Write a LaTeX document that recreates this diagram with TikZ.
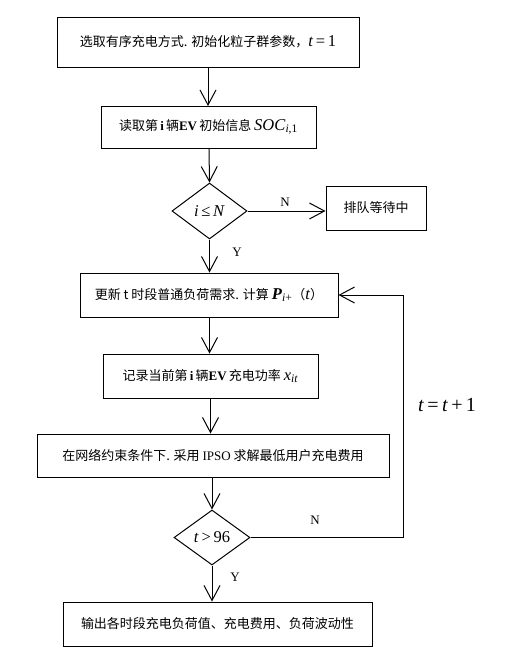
\documentclass[tikz,border=0pt]{standalone}
\usepackage{fontspec}
\setmainfont{Liberation Serif}
\newfontfamily\cjk{Noto Sans CJK SC}
\usetikzlibrary{shapes.geometric,arrows.meta}
\newcommand\lat[1]{{\rmfamily #1}}
\newcommand\fm[1]{{\rmfamily\fontsize{16.5}{18}\selectfont #1}}
\tikzset{
  box/.style={draw, line width=1pt, inner sep=0pt, font=\cjk\fontsize{13}{15}\selectfont},
  dia/.style={draw, diamond, line width=1pt, inner sep=0pt, aspect=1.35},
  arr/.style={line width=1pt, -{Straight Barb[length=15pt,width=16pt,line width=1pt]}},
  lbl/.style={font=\rmfamily\fontsize{13}{15}\selectfont, inner sep=0pt}
}
\begin{document}
\begin{tikzpicture}[x=1pt,y=-1pt]
\useasboundingbox (0,0) rectangle (506,657);
\node[box, minimum width=302pt, minimum height=50pt] (b1) at (208,42)
  {选取有序充电方式. 初始化粒子群参数，\fm{\textit{t}\,=\,1}};
\node[box, minimum width=215pt, minimum height=42pt] (b2) at (208.5,127)
  {读取第\,\lat{\textbf{i}}\,辆\lat{\textbf{EV}}\,初始信息 \fm{\textit{SOC}\textsubscript{\textit{i},1}}};
\node[dia, minimum width=75pt, minimum height=56pt] (d1) at (209.5,211)
  {\fm{\textit{i}\,≤\,\textit{N}}};
\node[box, minimum width=100pt, minimum height=44pt] (w) at (376,208) {排队等待中};
\node[box, minimum width=258pt, minimum height=44pt] (b3) at (209,295)
  {更新 t 时段普通负荷需求. 计算 \fm{\textbf{\textit{P}}\textsubscript{\textit{i}+}}（\fm{\textit{t}}）};
\node[box, minimum width=215pt, minimum height=44pt] (b4) at (210.5,376)
  {记录当前第\,\lat{\textbf{i}}\,辆\lat{\textbf{EV}}\,充电功率 \fm{\textit{x}\textsubscript{\textit{it}}}};
\node[box, minimum width=352pt, minimum height=43pt] (b5) at (213,455.5)
  {在网络约束条件下. 采用 \lat{IPSO} 求解最低用户充电费用};
\node[dia, minimum width=76pt, minimum height=55pt] (d2) at (212,537.5)
  {\fm{\textit{t}\,>\,96}};
\node[box, minimum width=309pt, minimum height=44pt] (b6) at (217.5,624)
  {输出各时段充电负荷值、充电费用、负荷波动性};
\coordinate (lx) at (403,0);

\draw[arr] (b1.south -| 208,0) -- (208,106);
\draw[arr] (209,148) -- (d1.north);
\draw[arr] (d1.east) -- (d1.east -| w.west);
\draw[arr] (d1.south) -- (d1.south |- b3.north);
\draw[arr] (b3.south -| 209.5,0) -- (b4.north -| 209.5,0);
\draw[arr] (b4.south -| 210.5,0) -- (b5.north -| 210.5,0);
\draw[arr] (b5.south -| 212,0) -- (d2.north);
\draw[arr] (d2.south) -- (d2.south |- b6.north);
\draw[arr] (d2.east) -| (lx |- b3.east) -- (b3.east);

\node[lbl] (n1) at (285,202) {N};
\node[lbl] (y1) at (237,252) {Y};
\node[lbl] (n2) at (315,520) {N};
\node[lbl] (y2) at (235,577) {Y};
\node[font=\rmfamily\fontsize{20}{22}\selectfont, inner sep=0pt] (tt) at (447,405) {\textit{t}\,=\,\textit{t}\,+\,1};
\end{tikzpicture}
\end{document}
